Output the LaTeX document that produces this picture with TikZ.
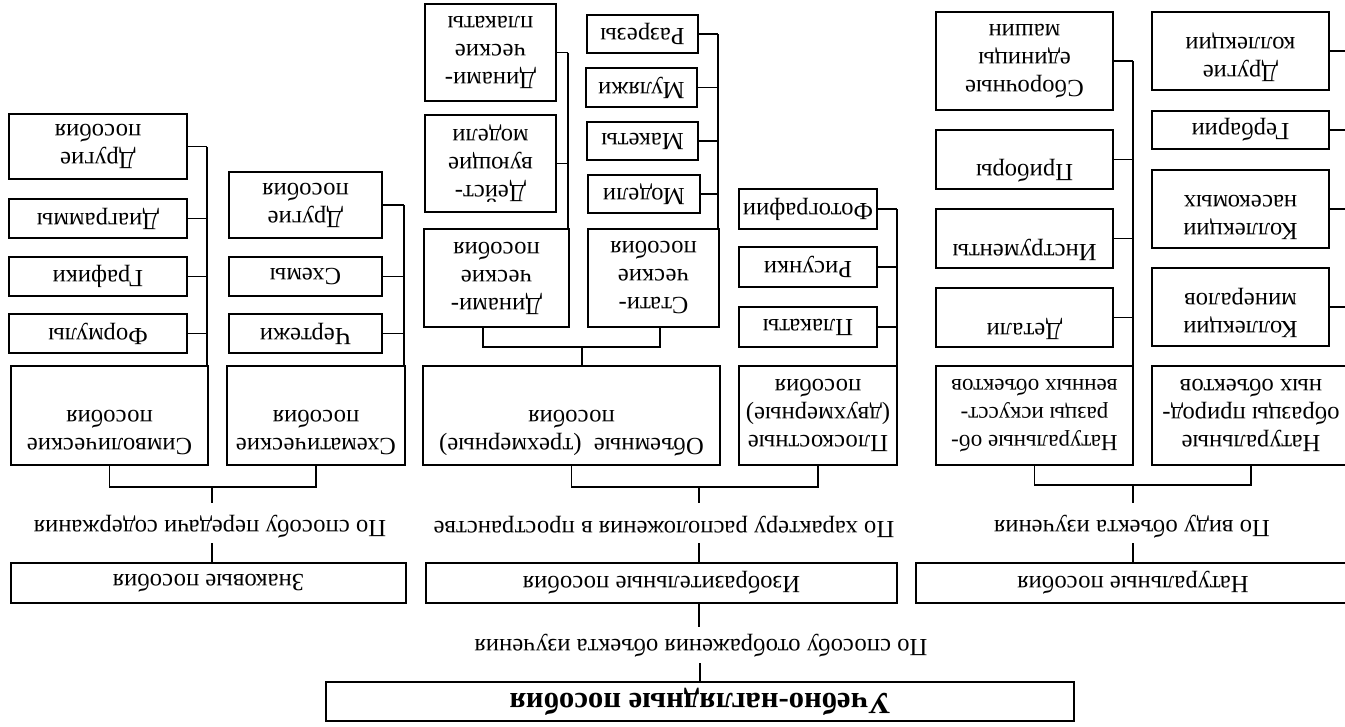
\documentclass[tikz,border=0pt]{standalone}
\usepackage{fontspec}
\setmainfont{Liberation Serif}
\newcommand\fs{\fontsize{18.5}{21}\selectfont}
\newcommand\narrowfs{\fontsize{17.3}{21}\selectfont}
\newcommand\rootfs{\fontsize{23}{26}\selectfont\bfseries}
\tikzset{
  bx/.style={draw, line width=1.3pt, rotate=180, align=center, inner sep=0pt, font=\fs},
  ln/.style={line width=1.3pt},
  lbl/.style={rotate=180, inner sep=0pt, font=\fs},
}
\newcommand\bx[6]{%
 \pgfmathsetmacro\bxw{(#4-#2)*0.75}%
 \pgfmathsetmacro\bxh{(#5-#3)*0.75}%
 \node[bx, minimum width=\bxw pt, minimum height=\bxh pt] (#1) at ({(#2+#4)/2},{(#3+#5)/2}) {#6};}
\begin{document}
\begin{tikzpicture}[x=0.75pt,y=-0.75pt]
\clip (0,0) rectangle (1345,726);
\fill[white] (0,0) rectangle (1345,726);
% ---- Знаковые
\bx{symA}{9}{114}{187}{179}{Другие\\пособия}
\bx{symB}{9}{199}{187}{238}{Диаграммы}
\bx{symC}{9}{257}{187}{296}{Графики}
\bx{symD}{9}{314}{187}{353}{Формулы}
\bx{schA}{229}{172}{382}{238}{Другие\\пособия}
\bx{schB}{229}{257}{382}{296}{Схемы}
\bx{schC}{229}{314}{382}{353}{Чертежи}
\bx{sym}{11}{366}{208}{465}{Символические\\пособия\\[5pt]\mbox{}}
\bx{sch}{227}{366}{405}{465}{Схематические\\пособия\\[5pt]\mbox{}}
\bx{znak}{11}{563}{406}{603}{Знаковые пособия}
% ---- Изобразительные
\bx{dynA}{425}{4}{556}{101}{Динами-\\ческие\\плакаты}
\bx{dynB}{425}{115}{556}{212}{Дейст-\\вующие\\модели}
\bx{dyn}{424}{229}{569}{327}{Динами-\\ческие\\пособия}
\bx{stA}{587}{15}{698}{53}{Разрезы}
\bx{stB}{586}{68}{697}{107}{Муляжи}
\bx{stC}{587}{122}{698}{160}{Макеты}
\bx{stD}{588}{175}{700}{213}{Модели}
\bx{st}{588}{229}{719}{327}{Стати-\\ческие\\пособия}
\bx{plA}{739}{189}{877}{229}{Фотографии}
\bx{plB}{739}{247}{877}{287}{Рисунки}
\bx{plC}{739}{307}{877}{347}{Плакаты}
\bx{vol}{423}{366}{720}{465}{Объемные\ \ (трехмерные)\\пособия\\[5pt]\mbox{}}
\bx{flat}{739}{366}{897}{465}{Плоскостные\\(двухмерные)\\пособия}
\bx{izo}{426}{563}{897}{603}{Изобразительные пособия}
% ---- Натуральные
\bx{natA}{936}{12}{1113}{110}{Сборочные\\единицы\\машин}
\bx{natB}{936}{130}{1113}{189}{Приборы\\\mbox{}}
\bx{natC}{936}{209}{1113}{268}{Инструменты\\\mbox{}}
\bx{natD}{936}{288}{1113}{347}{Детали\\\mbox{}}
\bx{colA}{1152}{12}{1329}{90}{Другие\\коллекции\\[-8pt]\mbox{}}
\bx{colB}{1152}{111}{1329}{149}{Гербарии}
\bx{colC}{1152}{170}{1329}{248}{Коллекции\\насекомых\\[-8pt]\mbox{}}
\bx{colD}{1152}{268}{1329}{346}{Коллекции\\минералов\\[-8pt]\mbox{}}
\bx{art}{936}{366}{1133}{465}{\narrowfs Натуральные об-\\\narrowfs разцы искусст-\\\narrowfs венных объектов}
\bx{nob}{1152}{366}{1350}{465}{Натуральные\\образцы природ-\\ных объектов}
\bx{natural}{916}{563}{1350}{603}{Натуральные пособия}
% ---- root
\bx{root}{326}{682}{1074}{721}{{\rootfs Учебно-наглядные пособия}}
% ---- labels
\node[lbl] (lab1) at (210,527) {По способу передачи содержания};
\node[lbl] (lab2) at (664,527) {По характеру расположения в пространстве};
\node[lbl] (lab3) at (1132,527) {По виду объекта изучения};
\node[lbl] (lab0) at (701,646) {По способу отображения объекта изучения};
% ---- buses
\coordinate (bSym) at (207,146);
\foreach \n in {symA,symB,symC,symD} \draw[ln] (\n.west) -- (\n.west -| bSym);
\draw[ln] (symA.west -| bSym) -- (bSym |- sym.south);
\coordinate (bSch) at (404,205);
\foreach \n in {schA,schB,schC} \draw[ln] (\n.west) -- (\n.west -| bSch);
\draw[ln] (schA.west -| bSch) -- (bSch |- sch.south);
\coordinate (bDyn) at (568,51);
\foreach \n in {dynA,dynB} \draw[ln] (\n.west) -- (\n.west -| bDyn);
\draw[ln] (dynA.west -| bDyn) -- (bDyn |- dyn.south);
\coordinate (bSt) at (718,34);
\foreach \n in {stA,stB,stC,stD} \draw[ln] (\n.west) -- (\n.west -| bSt);
\draw[ln] (stA.west -| bSt) -- (bSt |- st.south);
\coordinate (bPl) at (897,209);
\foreach \n in {plA,plB,plC} \draw[ln] (\n.west) -- (\n.west -| bPl);
\draw[ln] (plA.west -| bPl) -- (bPl |- flat.south);
\coordinate (bNat) at (1133,61);
\foreach \n in {natA,natB,natC,natD} \draw[ln] (\n.west) -- (\n.west -| bNat);
\draw[ln] (natA.west -| bNat) -- (bNat |- art.south);
\coordinate (bCol) at (1352,51);
\foreach \n in {colA,colB,colC,colD} \draw[ln] (\n.west) -- (\n.west -| bCol);
\draw[ln] (colA.west -| bCol) -- (bCol |- nob.south);
% ---- brackets
\coordinate (dx) at (483,347);
\coordinate (sx) at (660,347);
\coordinate (j4) at (582,347);
\draw[ln] (dx |- dyn.north) -- (dx) -- (sx) -- (sx |- st.north);
\draw[ln] (j4) -- (j4 |- vol.south);
\coordinate (j1) at (212,487);
\coordinate (j1b) at (212,543);
\draw[ln] (sym.north) |- (j1) -| (sch.north);
\draw[ln] (j1) -- ++(0,16);
\draw[ln] (j1b) -- (j1b |- znak.south);
\coordinate (j2) at (699,487);
\coordinate (j2b) at (699,543);
\draw[ln] (vol.north) |- (j2) -| (flat.north);
\draw[ln] (j2) -- ++(0,16);
\draw[ln] (j2b) -- (j2b |- izo.south);
\coordinate (j3) at (1133,485);
\coordinate (j3b) at (1133,543);
\draw[ln] (art.north) |- (j3) -| (nob.north);
\draw[ln] (j3) -- ++(0,18);
\draw[ln] (j3b) -- (j3b |- natural.south);
\coordinate (j0) at (699,627);
\coordinate (j0b) at (700,663);
\draw[ln] (j0 |- izo.north) -- (j0);
\draw[ln] (j0b) -- (j0b |- root.south);
\end{tikzpicture}
\end{document}
